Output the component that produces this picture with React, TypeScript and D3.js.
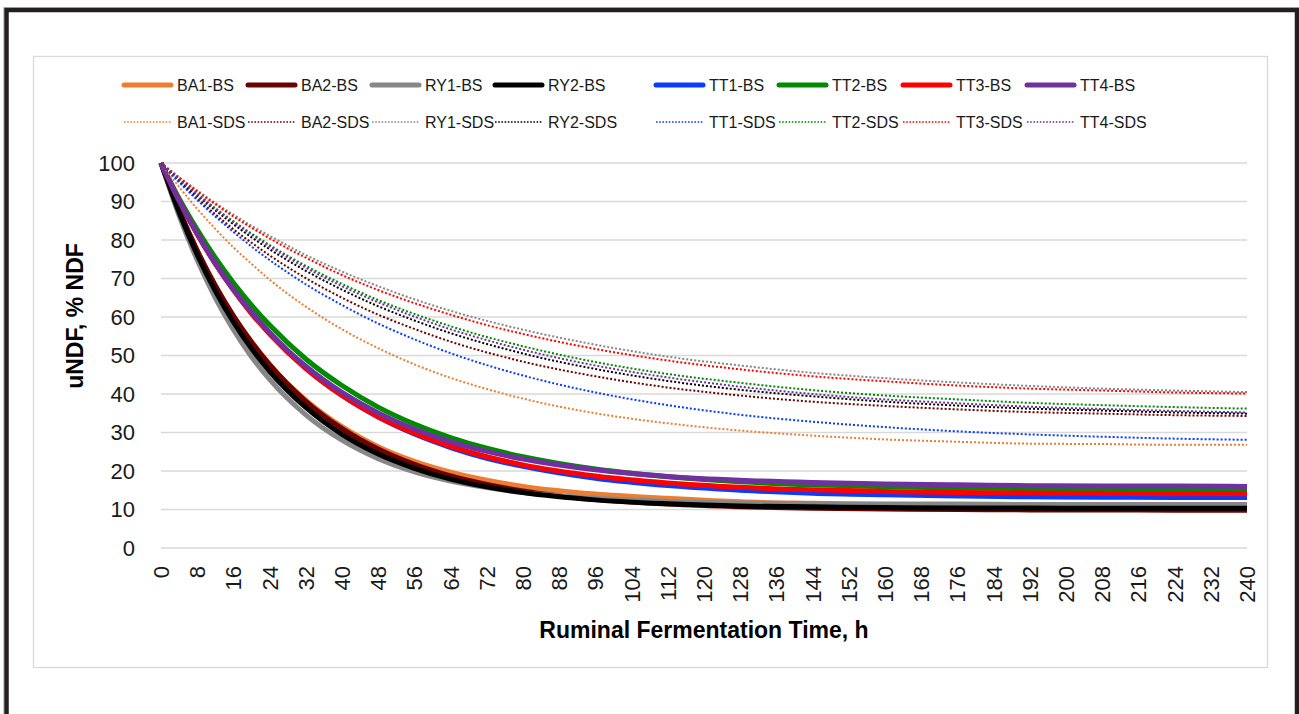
import * as d3 from "d3";
import { useEffect } from "react";

// sampling times (h)
const hours = [0, 4, 8, 12, 16, 20, 24, 32, 40, 48, 56, 64, 72, 80, 96, 112, 128, 144, 160, 176, 192, 208, 224, 240];

// uNDF, % NDF — BS curves
const ba1BS = [100, 87.8, 77.2, 68.1, 60.3, 53.6, 47.7, 38.4, 31.5, 26.3, 22.5, 19.7, 17.6, 16.0, 14.0, 12.9, 12.0, 11.6, 11.3, 11.2, 11.1, 11.0, 11.0, 11.0];
const ba2BS = [100, 87.8, 77.3, 68.2, 60.3, 53.5, 47.6, 38.1, 31.0, 25.7, 21.7, 18.7, 16.5, 14.8, 12.6, 11.4, 10.7, 10.3, 10.1, 10.0, 9.9, 9.9, 9.8, 9.8];
const ry1BS = [100, 86.3, 74.8, 65.0, 56.7, 49.7, 43.8, 34.6, 28.0, 23.2, 19.8, 17.4, 15.7, 14.4, 12.9, 12.1, 11.7, 11.5, 11.4, 11.4, 11.3, 11.3, 11.3, 11.3];
const ry2BS = [100, 87.2, 76.2, 66.8, 58.7, 51.8, 45.9, 36.5, 29.5, 24.4, 20.7, 17.9, 15.9, 14.4, 12.5, 11.5, 10.9, 10.7, 10.5, 10.4, 10.4, 10.3, 10.3, 10.3];
const tt1BS = [100, 90.3, 81.7, 74.0, 67.2, 61.1, 55.8, 46.7, 39.6, 34.0, 29.6, 26.1, 23.3, 21.2, 18.1, 16.2, 15.0, 14.2, 13.8, 13.5, 13.3, 13.2, 13.1, 13.1];
const tt2BS = [100, 90.8, 82.7, 75.4, 68.9, 63.1, 57.9, 49.1, 42.2, 36.6, 32.2, 28.7, 25.9, 23.7, 20.5, 18.5, 17.2, 16.4, 15.9, 15.6, 15.4, 15.2, 15.1, 15.1];
const tt3BS = [100, 90.2, 81.5, 73.8, 67.0, 60.9, 55.6, 46.6, 39.6, 34.1, 29.8, 26.4, 23.7, 21.6, 18.7, 16.9, 15.8, 15.1, 14.7, 14.4, 14.3, 14.2, 14.1, 14.1];
const tt4BS = [100, 90.2, 81.6, 74.0, 67.2, 61.3, 56.0, 47.2, 40.4, 35.1, 30.9, 27.6, 25.1, 23.1, 20.3, 18.6, 17.6, 17.0, 16.6, 16.4, 16.2, 16.1, 16.1, 16.0];

// uNDF, % NDF — SDS curves
const ba1SDS = [100, 93.8, 88.1, 82.9, 78.1, 73.8, 69.7, 62.7, 56.8, 51.9, 47.7, 44.2, 41.3, 38.8, 35.0, 32.4, 30.5, 29.2, 28.2, 27.6, 27.1, 27.0, 26.8, 26.8];
const ba2SDS = [100, 95.2, 90.8, 86.7, 82.8, 79.3, 76.0, 70.1, 65.0, 60.6, 56.9, 53.6, 50.8, 48.4, 44.6, 41.7, 39.6, 38.0, 36.9, 36.0, 35.3, 34.9, 34.5, 34.3];
const ry1SDS = [100, 96.3, 92.9, 89.6, 86.6, 83.7, 81.1, 76.1, 71.8, 68.0, 64.6, 61.6, 59.0, 56.7, 52.8, 49.7, 47.4, 45.5, 44.1, 43.0, 42.1, 41.4, 40.9, 40.5];
const ry2SDS = [100, 95.6, 91.5, 87.7, 84.1, 80.7, 77.6, 72.0, 67.1, 62.8, 59.1, 55.8, 53.0, 50.5, 46.5, 43.4, 41.1, 39.4, 38.0, 37.0, 36.2, 35.7, 35.2, 34.9];
const tt1SDS = [100, 95.0, 90.4, 86.1, 82.1, 78.3, 74.8, 68.5, 63.1, 58.3, 54.2, 50.6, 47.5, 44.8, 40.4, 37.1, 34.6, 32.8, 31.4, 30.3, 29.5, 28.9, 28.4, 28.1];
const tt2SDS = [100, 95.8, 92.0, 88.3, 84.9, 81.7, 78.7, 73.3, 68.6, 64.4, 60.8, 57.6, 54.8, 52.4, 48.3, 45.2, 42.9, 41.0, 39.6, 38.6, 37.7, 37.1, 36.6, 36.2];
const tt3SDS = [100, 96.2, 92.6, 89.3, 86.1, 83.2, 80.4, 75.4, 70.9, 67.0, 63.6, 60.6, 57.9, 55.6, 51.7, 48.7, 46.4, 44.6, 43.3, 42.2, 41.4, 40.9, 40.4, 40.1];
const tt4SDS = [100, 95.8, 91.8, 88.1, 84.6, 81.4, 78.3, 72.8, 68.0, 63.8, 60.1, 56.8, 54.0, 51.5, 47.4, 44.3, 41.9, 40.0, 38.6, 37.6, 36.7, 36.1, 35.6, 35.2];

const treatments = ["BA1", "BA2", "RY1", "RY2", "TT1", "TT2", "TT3", "TT4"];
const colors = ["#ED7D31", "#6B0000", "#878787", "#000000", "#0A3CFF", "#008A00", "#FF0000", "#7030A0"];
const bsValues = [ba1BS, ba2BS, ry1BS, ry2BS, tt1BS, tt2BS, tt3BS, tt4BS];
const sdsValues = [ba1SDS, ba2SDS, ry1SDS, ry2SDS, tt1SDS, tt2SDS, tt3SDS, tt4SDS];

const xTicks = d3.range(0, 241, 8);
const yTicks = d3.range(0, 101, 10);

// legend slot positions (Excel lays them out unevenly)
const legendX = [124, 248, 372, 495, 656, 779, 903, 1027];

export default function App() {
  const width = 1299;
  const height = 714;

  useEffect(() => {
    document.body.style.margin = "0";
  }, []);

  const x = d3.scaleLinear([0, 240], [161, 1247]);
  const y = d3.scaleLinear([0, 100], [548, 163]);

  const line = d3
    .line<number>()
    .x((d, i) => x(hours[i]))
    .y((d) => y(d))
    .curve(d3.curveMonotoneX);

  const series = [
    ...treatments.map((t, i) => ({ name: `${t}-BS`, color: colors[i], values: bsValues[i], dotted: false })),
    ...treatments.map((t, i) => ({ name: `${t}-SDS`, color: colors[i], values: sdsValues[i], dotted: true })),
  ];

  const tickFont = "'Liberation Sans', Arial, sans-serif";

  return (
    <svg width={width} height={height} style={{ display: "block", background: "#fff" }}>
      {/* outer frame */}
      <rect x={3.5} y={7.5} width={1300} height={720} fill="none" stroke="#c8c8c8" strokeWidth={1} />
      <rect x={6.5} y={10} width={1290.5} height={720} fill="none" stroke="#231F20" strokeWidth={4.5} />
      {/* chart area */}
      <rect x={33.5} y={56.5} width={1234} height={611} fill="#fff" stroke="#D9D9D9" strokeWidth={1.3} />

      {/* gridlines */}
      <g stroke="#D9D9D9" strokeWidth={1.5}>
        {yTicks.map((t) => (
          <line key={t} x1={x(0)} x2={x(240)} y1={y(t)} y2={y(t)} />
        ))}
      </g>

      {/* y tick labels */}
      <g fontFamily={tickFont} fontSize={22} fill="#1a1a1a" textAnchor="end">
        {yTicks.map((t) => (
          <text key={t} x={135} y={y(t)} dy="0.36em">
            {t}
          </text>
        ))}
      </g>

      {/* x tick labels */}
      <g fontFamily={tickFont} fontSize={22} fill="#1a1a1a" textAnchor="end">
        {xTicks.map((t) => (
          <text key={t} transform={`translate(${x(t)},566) rotate(-90)`} dy="0.36em">
            {t}
          </text>
        ))}
      </g>

      {/* series */}
      <g fill="none">
        {series.map((s) => (
          <path
            key={s.name}
            d={line(s.values) ?? ""}
            stroke={s.color}
            strokeWidth={s.dotted ? 2 : 5}
            strokeDasharray={s.dotted ? "2,2" : undefined}
            strokeLinejoin="round"
          />
        ))}
      </g>

      {/* axis titles */}
      <text
        x={704}
        y={630}
        textAnchor="middle"
        dominantBaseline="central"
        fontFamily={tickFont}
        fontWeight="bold"
        fontSize={23}
        fill="#000"
      >
        Ruminal Fermentation Time, h
      </text>
      <text
        transform="translate(75,316) rotate(-90)"
        textAnchor="middle"
        dominantBaseline="central"
        fontFamily={tickFont}
        fontWeight="bold"
        fontSize={23}
        fill="#000"
      >
        uNDF, % NDF
      </text>

      {/* legend */}
      <g fontFamily={tickFont} fontSize={16} fill="#1a1a1a">
        {series.map((s, i) => {
          const lx = legendX[i % 8];
          const ly = i < 8 ? 85 : 122;
          return (
            <g key={s.name}>
              <line
                x1={lx}
                x2={lx + 47}
                y1={ly}
                y2={ly}
                stroke={s.color}
                strokeWidth={s.dotted ? 1.6 : 5}
                strokeLinecap={s.dotted ? "butt" : "round"}
                strokeDasharray={s.dotted ? "1.6,1.6" : undefined}
              />
              <text x={lx + 53} y={ly} dominantBaseline="central">
                {s.name}
              </text>
            </g>
          );
        })}
      </g>
    </svg>
  );
}
